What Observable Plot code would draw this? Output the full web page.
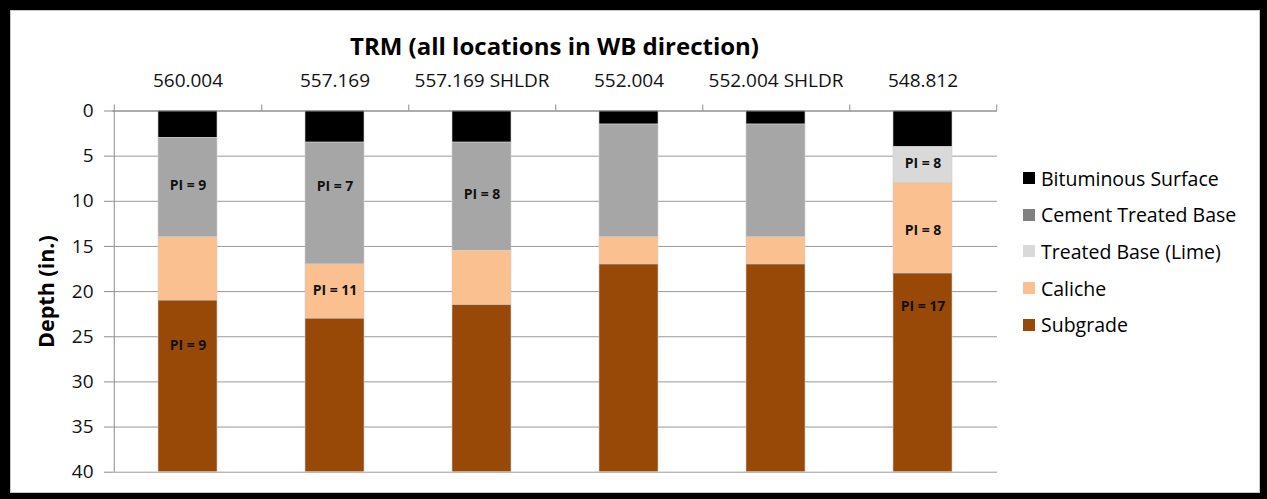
<!DOCTYPE html>
<html>
<head>
<meta charset="utf-8">
<script src="https://cdn.jsdelivr.net/npm/d3@7"></script>
<script src="https://cdn.jsdelivr.net/npm/@observablehq/plot@0.6"></script>
<style>
  html, body { margin: 0; padding: 0; background: #fff; }
  #wrap { position: relative; width: 1267px; height: 499px; background: #fff; overflow: hidden; font-family: "Open Sans", Lato, sans-serif; }
  #title { width: 1109px; height: 28px; padding-top: 32px; text-align: center; font-weight: bold; font-size: 24px; line-height: 28px; color: #000; }
  #legend { position: absolute; left: 1023px; top: 166px; font-size: 19.5px; color: #000; }
  #legend .row { display: flex; align-items: center; height: 24px; margin-bottom: 12.7px; }
  #legend .sw { width: 12px; height: 12px; margin-right: 6px; }
  #frame { position: absolute; left: 0; top: 0; width: 1267px; height: 499px; box-sizing: border-box; border-style: solid; border-color: #000; border-width: 10px 7px 6px 10px; }
  #frame::after { content: ""; position: absolute; inset: 0; border: 1px solid #c8c8c8; }
</style>
</head>
<body>
<div id="wrap">
  <div id="title">TRM (all locations in WB direction)</div>
  <div id="chart"></div>
  <div id="legend"></div>
  <div id="frame"></div>
</div>
<script>
// ---- Data ----
const sites = ["560.004", "557.169", "557.169 SHLDR", "552.004", "552.004 SHLDR", "548.812"];
const layers = ["Bituminous Surface", "Cement Treated Base", "Treated Base (Lime)", "Caliche", "Subgrade"];
const barColors = ["#000000", "#a6a6a6", "#d9d9d9", "#fac090", "#984807"];
const legendColors = ["#000000", "#808080", "#d9d9d9", "#fac090", "#984807"];

// layer thickness (in.) per site
const bituminous   = [3, 3.5, 3.5, 1.5, 1.5, 4];
const cementBase   = [11, 13.5, 12, 12.5, 12.5, 0];
const limeBase     = [0, 0, 0, 0, 0, 4];
const caliche      = [7, 6, 6, 3, 3, 10];
const subgrade     = [19, 17, 18.5, 23, 23, 22];

// PI annotations
const labelSite  = ["560.004", "560.004", "557.169", "557.169", "557.169 SHLDR", "548.812", "548.812", "548.812"];
const labelDepth = [8.2, 26.0, 8.4, 19.9, 9.3, 5.8, 13.2, 21.6];
const labelText  = ["PI = 9", "PI = 9", "PI = 7", "PI = 11", "PI = 8", "PI = 8", "PI = 8", "PI = 17"];

const yTicks = [0, 5, 10, 15, 20, 25, 30, 35, 40];

// ---- Build table ----
const series = [bituminous, cementBase, limeBase, caliche, subgrade];
const rows = [];
sites.forEach((s, i) => {
  layers.forEach((l, j) => {
    rows.push({site: s, layer: l, thickness: series[j][i]});
  });
});
const labels = labelText.map((t, i) => ({site: labelSite[i], depth: labelDepth[i], text: t}));

const W = 1267, H = 439;
const mL = 112, mR = 270, mT = 50.5, mB = 27.3;
const step = (W - mL - mR) / sites.length;

const chart = Plot.plot({
  width: W,
  height: H,
  marginLeft: mL,
  marginRight: mR,
  marginTop: mT,
  marginBottom: mB,
  style: {fontFamily: "'Open Sans', Lato, sans-serif", fontSize: "19px", color: "#000", background: "transparent"},
  x: {domain: sites, paddingInner: 0.6, paddingOuter: 0.3, axis: null},
  y: {domain: [0, 40], reverse: true, axis: null},
  color: {domain: layers, range: barColors},
  marks: [
    Plot.gridY(yTicks, {stroke: "#9a9a9a", strokeOpacity: 1, strokeWidth: 1}),
    Plot.barY(rows, Plot.stackY({x: "site", y: "thickness", fill: "layer", order: layers, stroke: "#d0d0d0", strokeWidth: 0.6})),
    Plot.ruleY([0], {stroke: "#8c8c8c", strokeWidth: 1}),
    Plot.ruleX(sites, {x: d => d, dx: step / 2, y1: 0, y2: 0, insetTop: -6, stroke: "#8c8c8c"}),
    Plot.ruleX([sites[0]], {x: d => d, dx: -step / 2, y1: 0, y2: 40, insetTop: -6, stroke: "#8c8c8c"}),
    Plot.axisY(yTicks, {anchor: "left", tickSize: 8, tickPadding: 11, stroke: "#8c8c8c", fontSize: 19, label: null, fill: "#111"}),
    Plot.axisX({anchor: "top", tickSize: 0, tickPadding: 24, fontSize: 19, label: null, fill: "#111"}),
    Plot.text(["Depth (in.)"], {frameAnchor: "left", textAnchor: "middle", rotate: -90, dx: -65, fontSize: 21.5, fontWeight: "bold", fill: "#000"}),
    Plot.text(labels, {x: "site", y: "depth", text: "text", fontSize: 14, fontWeight: "bold", fill: "#111"})
  ]
});
document.getElementById("chart").appendChild(chart);

// ---- Legend ----
const leg = document.getElementById("legend");
layers.forEach((l, i) => {
  const row = document.createElement("div");
  row.className = "row";
  const sw = document.createElement("div");
  sw.className = "sw";
  sw.style.background = legendColors[i];
  const tx = document.createElement("span");
  tx.textContent = l;
  row.appendChild(sw);
  row.appendChild(tx);
  leg.appendChild(row);
});
</script>
</body>
</html>
